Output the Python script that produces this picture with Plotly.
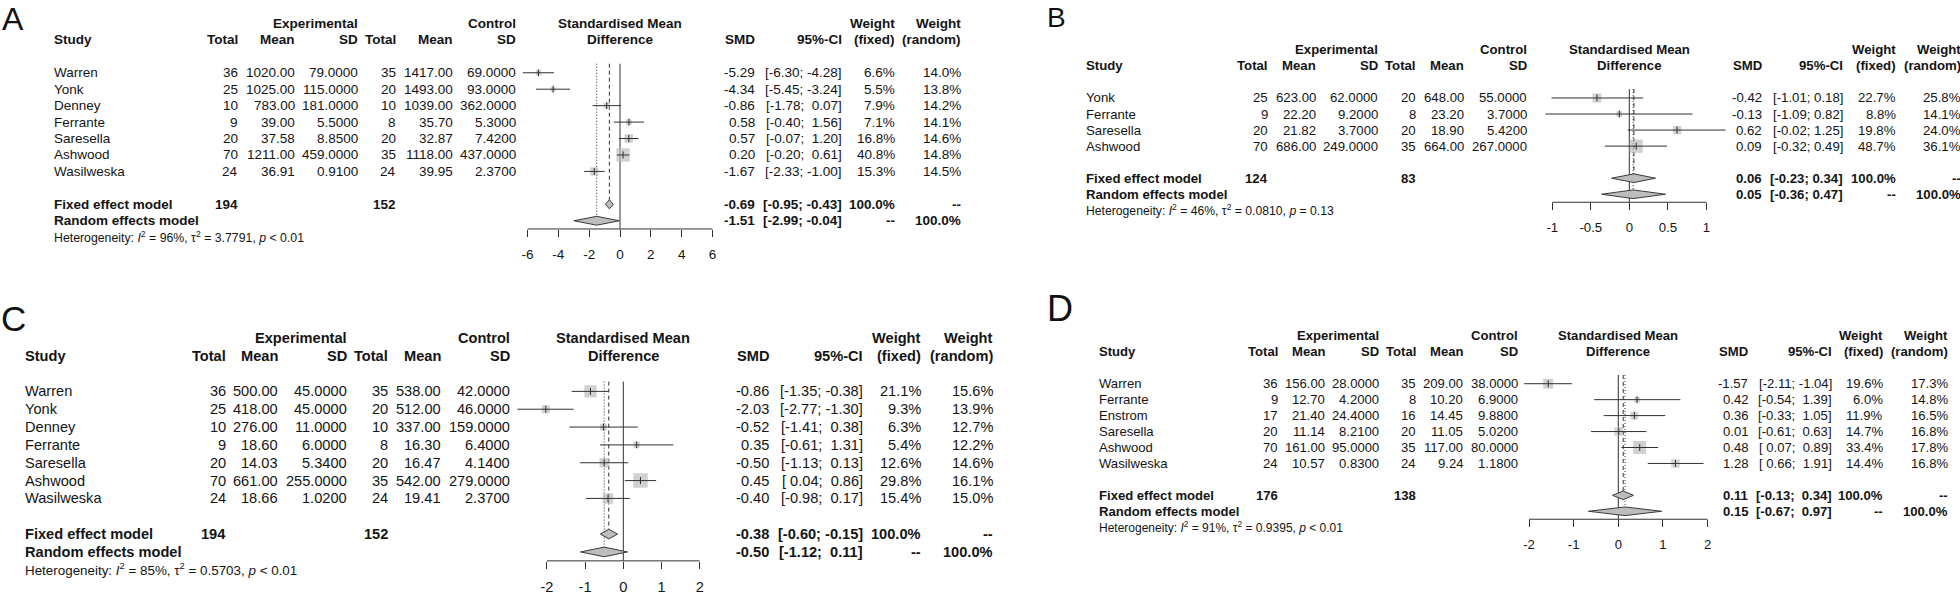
import math
import plotly.graph_objects as go

W, H = 1960, 595

# ---------------- Panel A ----------------
A_study = ["Warren", "Yonk", "Denney", "Ferrante", "Saresella", "Ashwood", "Wasilweska"]
A_exp_n = [36, 25, 10, 9, 20, 70, 24]
A_exp_mean = [1020.00, 1025.00, 783.00, 39.00, 37.58, 1211.00, 36.91]
A_exp_sd = [79.0, 115.0, 181.0, 5.5, 8.85, 459.0, 0.91]
A_ctl_n = [35, 20, 10, 8, 20, 35, 24]
A_ctl_mean = [1417.00, 1493.00, 1039.00, 35.70, 32.87, 1118.00, 39.95]
A_ctl_sd = [69.0, 93.0, 362.0, 5.3, 7.42, 437.0, 2.37]
A_smd = [-5.29, -4.34, -0.86, 0.58, 0.57, 0.20, -1.67]
A_lo = [-6.30, -5.45, -1.78, -0.40, -0.07, -0.20, -2.33]
A_hi = [-4.28, -3.24, 0.07, 1.56, 1.20, 0.61, -1.00]
A_wf = [6.6, 5.5, 7.9, 7.1, 16.8, 40.8, 15.3]
A_wr = [14.0, 13.8, 14.2, 14.1, 14.6, 14.8, 14.5]
A_fixed = [-0.69, -0.95, -0.43]
A_random = [-1.51, -2.99, -0.04]
A_totals = [194, 152]
A_het = ["96%", "3.7791", "< 0.01"]
A_ticks = [-6, -4, -2, 0, 2, 4, 6]

# ---------------- Panel B ----------------
B_study = ["Yonk", "Ferrante", "Saresella", "Ashwood"]
B_exp_n = [25, 9, 20, 70]
B_exp_mean = [623.00, 22.20, 21.82, 686.00]
B_exp_sd = [62.0, 9.2, 3.7, 249.0]
B_ctl_n = [20, 8, 20, 35]
B_ctl_mean = [648.00, 23.20, 18.90, 664.00]
B_ctl_sd = [55.0, 3.7, 5.42, 267.0]
B_smd = [-0.42, -0.13, 0.62, 0.09]
B_lo = [-1.01, -1.09, -0.02, -0.32]
B_hi = [0.18, 0.82, 1.25, 0.49]
B_wf = [22.7, 8.8, 19.8, 48.7]
B_wr = [25.8, 14.1, 24.0, 36.1]
B_fixed = [0.06, -0.23, 0.34]
B_random = [0.05, -0.36, 0.47]
B_totals = [124, 83]
B_het = ["46%", "0.0810", "= 0.13"]
B_ticks = [-1, -0.5, 0, 0.5, 1]

# ---------------- Panel C ----------------
C_study = ["Warren", "Yonk", "Denney", "Ferrante", "Saresella", "Ashwood", "Wasilweska"]
C_exp_n = [36, 25, 10, 9, 20, 70, 24]
C_exp_mean = [500.00, 418.00, 276.00, 18.60, 14.03, 661.00, 18.66]
C_exp_sd = [45.0, 45.0, 11.0, 6.0, 5.34, 255.0, 1.02]
C_ctl_n = [35, 20, 10, 8, 20, 35, 24]
C_ctl_mean = [538.00, 512.00, 337.00, 16.30, 16.47, 542.00, 19.41]
C_ctl_sd = [42.0, 46.0, 159.0, 6.4, 4.14, 279.0, 2.37]
C_smd = [-0.86, -2.03, -0.52, 0.35, -0.50, 0.45, -0.40]
C_lo = [-1.35, -2.77, -1.41, -0.61, -1.13, 0.04, -0.98]
C_hi = [-0.38, -1.30, 0.38, 1.31, 0.13, 0.86, 0.17]
C_wf = [21.1, 9.3, 6.3, 5.4, 12.6, 29.8, 15.4]
C_wr = [15.6, 13.9, 12.7, 12.2, 14.6, 16.1, 15.0]
C_fixed = [-0.38, -0.60, -0.15]
C_random = [-0.50, -1.12, 0.11]
C_totals = [194, 152]
C_het = ["85%", "0.5703", "< 0.01"]
C_ticks = [-2, -1, 0, 1, 2]

# ---------------- Panel D ----------------
D_study = ["Warren", "Ferrante", "Enstrom", "Saresella", "Ashwood", "Wasilweska"]
D_exp_n = [36, 9, 17, 20, 70, 24]
D_exp_mean = [156.00, 12.70, 21.40, 11.14, 161.00, 10.57]
D_exp_sd = [28.0, 4.2, 24.4, 8.21, 95.0, 0.83]
D_ctl_n = [35, 8, 16, 20, 35, 24]
D_ctl_mean = [209.00, 10.20, 14.45, 11.05, 117.00, 9.24]
D_ctl_sd = [38.0, 6.9, 9.88, 5.02, 80.0, 1.18]
D_smd = [-1.57, 0.42, 0.36, 0.01, 0.48, 1.28]
D_lo = [-2.11, -0.54, -0.33, -0.61, 0.07, 0.66]
D_hi = [-1.04, 1.39, 1.05, 0.63, 0.89, 1.91]
D_wf = [19.6, 6.0, 11.9, 14.7, 33.4, 14.4]
D_wr = [17.3, 14.8, 16.5, 16.8, 17.8, 16.8]
D_fixed = [0.11, -0.13, 0.34]
D_random = [0.15, -0.67, 0.97]
D_totals = [176, 138]
D_het = ["91%", "0.9395", "< 0.01"]
D_ticks = [-2, -1, 0, 1, 2]

panels = [
    dict(label="A", study=A_study, en=A_exp_n, em=A_exp_mean, es=A_exp_sd, cn=A_ctl_n, cm=A_ctl_mean,
         cs=A_ctl_sd, smd=A_smd, lo=A_lo, hi=A_hi, wf=A_wf, wr=A_wr, fixed=A_fixed, random=A_random,
         totals=A_totals, het=A_het, ticks=A_ticks),
    dict(label="B", study=B_study, en=B_exp_n, em=B_exp_mean, es=B_exp_sd, cn=B_ctl_n, cm=B_ctl_mean,
         cs=B_ctl_sd, smd=B_smd, lo=B_lo, hi=B_hi, wf=B_wf, wr=B_wr, fixed=B_fixed, random=B_random,
         totals=B_totals, het=B_het, ticks=B_ticks),
    dict(label="C", study=C_study, en=C_exp_n, em=C_exp_mean, es=C_exp_sd, cn=C_ctl_n, cm=C_ctl_mean,
         cs=C_ctl_sd, smd=C_smd, lo=C_lo, hi=C_hi, wf=C_wf, wr=C_wr, fixed=C_fixed, random=C_random,
         totals=C_totals, het=C_het, ticks=C_ticks),
    dict(label="D", study=D_study, en=D_exp_n, em=D_exp_mean, es=D_exp_sd, cn=D_ctl_n, cm=D_ctl_mean,
         cs=D_ctl_sd, smd=D_smd, lo=D_lo, hi=D_hi, wf=D_wf, wr=D_wr, fixed=D_fixed, random=D_random,
         totals=D_totals, het=D_het, ticks=D_ticks),
]

# layout geometry (pixels)
geoms = [
    dict(lx=2, ly=19, lsize=32, y0=73, s=16.5, top=0, fs=13.5, hfs=12.3,
         cols=[53.6, 238, 295, 358, 396, 452.5, 516, 755, 841.7, 895, 961],
         x0=620, pxu=15.42, xr=[-7, 7]),
    dict(lx=1047, ly=18, lsize=28, y0=98.3, s=16.1, top=0, fs=13.2, hfs=12.2,
         cols=[1086, 1267.7, 1316, 1378, 1416, 1464, 1526.7, 1762, 1842.7, 1895.7, 1961],
         x0=1629.3, pxu=77.0, xr=[-1.3, 1.3]),
    dict(lx=1, ly=319.5, lsize=35, y0=392.7, s=17.9, top=300, fs=14.6, hfs=13.4,
         cols=[25, 225.7, 278, 347, 388, 441, 510, 769, 863, 921, 992.7],
         x0=623.3, pxu=38.2, xr=[-3, 3]),
    dict(lx=1047, ly=310, lsize=36, y0=385, s=16.0, top=295, fs=13.1, hfs=12.0,
         cols=[1099, 1277.7, 1325, 1379, 1416, 1463, 1517.7, 1748, 1832, 1883, 1947.7],
         x0=1618.3, pxu=44.65, xr=[-2.4, 2.4]),
]

FONT = "Liberation Sans, Arial, Helvetica, sans-serif"
INK = "#141414"
LINE = "#303030"
SQ = "#bdbdbd"
NB = "\u00a0"


def ci_part(v, pad):
    s = f"{v:.2f}"
    return (NB + s) if (pad and v >= 0) else s


def fmt_tick(t):
    return f"{t:g}"


fig = go.Figure()
ann = []
axes = {}

for i, (P, G) in enumerate(zip(panels, geoms)):
    n = i + 1
    xa = "x" if n == 1 else f"x{n}"
    ya = "y" if n == 1 else f"y{n}"
    xkey = "xaxis" if n == 1 else f"xaxis{n}"
    ykey = "yaxis" if n == 1 else f"yaxis{n}"
    k = len(P["study"])
    rows = list(range(k))
    r_fixed, r_random, r_het, r_axis = k + 1, k + 2, k + 3, k + 2.5
    y0, s = G["y0"], G["s"]
    axis_px = y0 + s * r_axis
    top_px, bot_px = G["top"], axis_px + 12
    axes[ykey] = dict(domain=[1 - bot_px / H, 1 - top_px / H],
                      range=[(bot_px - y0) / s, (top_px - y0) / s],
                      visible=False, fixedrange=True)
    lo, hi = G["xr"]
    axes[xkey] = dict(domain=[(G["x0"] + lo * G["pxu"]) / W, (G["x0"] + hi * G["pxu"]) / W],
                      range=[lo, hi], anchor="free", position=1 - axis_px / H,
                      showgrid=False, zeroline=False, showline=False,
                      ticks="outside", ticklen=7, tickwidth=1, tickcolor=LINE,
                      tickvals=P["ticks"], ticktext=[fmt_tick(t) for t in P["ticks"]],
                      tickfont=dict(family=FONT, size=G["fs"], color=INK),
                      ticklabelstandoff=6, fixedrange=True)

    # padding of CI bounds (as R formats equal-width strings)
    all_lo = P["lo"] + [P["fixed"][1], P["random"][1]]
    all_hi = P["hi"] + [P["fixed"][2], P["random"][2]]
    pad_lo = any(v < 0 for v in all_lo)
    pad_hi = any(v < 0 for v in all_hi)

    def fmt_ci(l, h):
        return "[" + ci_part(l, pad_lo) + ";" + NB + ci_part(h, pad_hi) + "]"

    top_row = -0.55
    dh = 0.27
    common = dict(xaxis=xa, yaxis=ya, showlegend=False, hoverinfo="skip")
    # axis baseline
    fig.add_trace(go.Scatter(x=[P["ticks"][0], P["ticks"][-1]], y=[r_axis, r_axis], mode="lines",
                             line=dict(color=LINE, width=1), **common))
    # reference lines
    fig.add_trace(go.Scatter(x=[0, 0], y=[top_row, r_axis], mode="lines",
                             line=dict(color=LINE, width=1), **common))
    fe, re_ = P["fixed"][0], P["random"][0]
    fig.add_trace(go.Scatter(x=[fe, fe], y=[top_row, r_fixed - dh], mode="lines",
                             line=dict(color=LINE, width=1, dash="4px,3px"), **common))
    fig.add_trace(go.Scatter(x=[re_, re_], y=[top_row, r_random - dh], mode="lines",
                             line=dict(color=LINE, width=1, dash="1px,2px"), **common))
    # squares
    wmax = max(P["wf"])
    msz = 0.81 * s
    fig.add_trace(go.Scatter(x=P["smd"], y=rows, mode="markers",
                             marker=dict(symbol="square", color=SQ, line=dict(width=0),
                                         size=[msz * math.sqrt(w / wmax) for w in P["wf"]]),
                             **common))
    # CI lines
    cx, cy = [], []
    for r, l, h in zip(rows, P["lo"], P["hi"]):
        cx += [l, h, None]
        cy += [r, r, None]
    fig.add_trace(go.Scatter(x=cx, y=cy, mode="lines", line=dict(color=LINE, width=1), **common))
    # point ticks
    fig.add_trace(go.Scatter(x=P["smd"], y=rows, mode="markers",
                             marker=dict(symbol="line-ns", size=5, line=dict(color=LINE, width=1)),
                             **common))
    # diamonds
    for row, (est, l, h) in ((r_fixed, P["fixed"]), (r_random, P["random"])):
        fig.add_trace(go.Scatter(x=[l, est, h, est, l], y=[row, row - dh, row, row + dh, row],
                                 mode="lines", fill="toself", fillcolor=SQ,
                                 line=dict(color="#3a3a3a", width=1), **common))

    # ---------- texts ----------
    fs, C = G["fs"], G["cols"]

    def T(text, xpx, row, anchor="right", bold=False, size=None):
        ann.append(dict(text=(f"<b>{text}</b>" if bold else text), x=xpx / W, xref="paper",
                        y=row, yref=ya, xanchor=anchor, yanchor="middle", showarrow=False,
                        borderpad=0, borderwidth=0,
                        font=dict(family=FONT, size=size or fs, color=INK)))

    # headers
    T("Experimental", C[3], -3, bold=True)
    T("Control", C[6], -3, bold=True)
    T("Standardised Mean", G["x0"], -3, anchor="center", bold=True)
    T("Weight", C[9], -3, bold=True)
    T("Weight", C[10], -3, bold=True)
    T("Study", C[0], -2, anchor="left", bold=True)
    for txt, ci in (("Total", 1), ("Mean", 2), ("SD", 3), ("Total", 4), ("Mean", 5), ("SD", 6),
                    ("SMD", 7), ("95%-CI", 8), ("(fixed)", 9), ("(random)", 10)):
        T(txt, C[ci], -2, bold=True)
    T("Difference", G["x0"], -2, anchor="center", bold=True)

    # study rows
    for r in rows:
        T(P["study"][r], C[0], r, anchor="left")
        T(str(P["en"][r]), C[1], r)
        T(f"{P['em'][r]:.2f}", C[2], r)
        T(f"{P['es'][r]:.4f}", C[3], r)
        T(str(P["cn"][r]), C[4], r)
        T(f"{P['cm'][r]:.2f}", C[5], r)
        T(f"{P['cs'][r]:.4f}", C[6], r)
        T(f"{P['smd'][r]:.2f}", C[7], r)
        T(fmt_ci(P["lo"][r], P["hi"][r]), C[8], r)
        T(f"{P['wf'][r]:.1f}%", C[9], r)
        T(f"{P['wr'][r]:.1f}%", C[10], r)

    # summary rows
    T("Fixed effect model", C[0], r_fixed, anchor="left", bold=True)
    T(str(P["totals"][0]), C[1], r_fixed, bold=True)
    T(str(P["totals"][1]), C[4], r_fixed, bold=True)
    T(f"{P['fixed'][0]:.2f}", C[7], r_fixed, bold=True)
    T(fmt_ci(P["fixed"][1], P["fixed"][2]), C[8], r_fixed, bold=True)
    T("100.0%", C[9], r_fixed, bold=True)
    T("--", C[10], r_fixed, bold=True)
    T("Random effects model", C[0], r_random, anchor="left", bold=True)
    T(f"{P['random'][0]:.2f}", C[7], r_random, bold=True)
    T(fmt_ci(P["random"][1], P["random"][2]), C[8], r_random, bold=True)
    T("--", C[9], r_random, bold=True)
    T("100.0%", C[10], r_random, bold=True)

    i2, tau2, pv = P["het"]
    pv = pv.replace("<", "&lt;")
    T(f"Heterogeneity: <i>I</i><sup>2</sup> = {i2}, \u03c4<sup>2</sup> = {tau2}, <i>p</i> {pv}",
      C[0], r_het, anchor="left", size=G["hfs"])

    # panel letter
    ann.append(dict(text=P["label"], x=G["lx"] / W, xref="paper", y=1 - G["ly"] / H, yref="paper",
                    xanchor="left", yanchor="middle", showarrow=False, borderpad=0, borderwidth=0,
                    font=dict(family="Liberation Sans, Arial, sans-serif", size=G["lsize"],
                              color="#111111")))

fig.update_layout(
    width=W, height=H, autosize=False,
    margin=dict(l=0, r=0, t=0, b=0),
    paper_bgcolor="white", plot_bgcolor="rgba(0,0,0,0)",
    showlegend=False,
    annotations=ann,
    **axes,
)

fig.write_html("out.html", config={"displayModeBar": False, "staticPlot": True},
               post_script="document.body.style.margin='0';document.body.style.overflow='hidden';")
